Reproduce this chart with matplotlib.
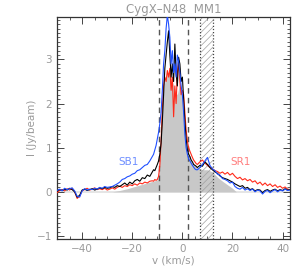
import numpy as np
import matplotlib
matplotlib.use("Agg")
import matplotlib.pyplot as plt
from matplotlib.ticker import MultipleLocator

# velocity channels: 1 km/s in the wings, 0.5 km/s across the core
v = np.concatenate([np.arange(-50, -12.5, 1.0),
                    np.arange(-12, 5.75, 0.5),
                    np.arange(6, 43.5, 1.0)])

black = [0.02, 0.05, 0.03, 0.06, 0.04, 0.08, 0.05, 0.00, -0.12, -0.08,
         0.04, 0.06, 0.03, 0.05, 0.07, 0.04, 0.06, 0.09, 0.07, 0.10,
         0.08, 0.09, 0.12, 0.10, 0.14, 0.12, 0.16, 0.20, 0.15, 0.22,
         0.18, 0.25, 0.28, 0.24, 0.32, 0.30, 0.38, 0.35,
         # core
         0.45, 0.50, 0.48, 0.55, 0.62, 0.70, 0.85, 1.10, 1.60, 2.20,
         2.80, 3.10, 3.40, 3.65, 3.10, 2.60, 2.90, 2.50, 3.35, 2.70,
         2.40, 3.05, 2.90, 2.50, 2.60, 2.10, 1.60, 1.20, 0.95, 0.85,
         0.80, 0.72, 0.68, 0.62, 0.60, 0.58,
         # red side
         0.55, 0.60, 0.58, 0.68, 0.62, 0.55, 0.50, 0.45, 0.42, 0.36,
         0.32, 0.30, 0.28, 0.25, 0.22, 0.18, 0.15, 0.12, 0.14, 0.08,
         0.10, 0.05, 0.07, 0.02, 0.05, 0.04, -0.02, 0.03, 0.05, 0.01,
         0.04, 0.06, 0.02, 0.05, 0.03, 0.07, 0.04, 0.05]

blue = [0.03, 0.06, 0.02, 0.08, 0.05, 0.07, 0.09, 0.02, -0.10, -0.12,
        0.02, 0.07, 0.04, 0.06, 0.05, 0.08, 0.06, 0.10, 0.08, 0.12,
        0.10, 0.11, 0.12, 0.15, 0.18, 0.22, 0.28, 0.30, 0.34, 0.36,
        0.40, 0.42, 0.48, 0.50, 0.55, 0.60, 0.62, 0.70,
        0.80, 0.85, 0.95, 1.05, 1.20, 1.35, 1.55, 1.80, 2.30, 2.90,
        3.20, 3.70, 4.00, 3.80, 3.50, 2.90, 3.20, 2.70, 2.90, 2.60,
        3.10, 2.95, 2.70, 2.40, 2.20, 1.80, 1.30, 1.00, 0.85, 0.75,
        0.70, 0.65, 0.60, 0.56, 0.52, 0.50,
        0.50, 0.55, 0.62, 0.70, 0.78, 0.60, 0.52, 0.48, 0.40, 0.38,
        0.30, 0.28, 0.25, 0.20, 0.22, 0.12, 0.08, 0.06, 0.10, 0.04,
        0.07, 0.03, 0.06, 0.00, 0.04, 0.02, -0.05, 0.01, 0.03, -0.02,
        0.02, 0.05, 0.00, 0.04, 0.02, 0.06, 0.03, 0.04]

red = [-0.02, 0.03, 0.05, 0.02, 0.07, 0.04, 0.08, 0.00, -0.15, -0.10,
       0.03, 0.05, 0.08, 0.04, 0.06, 0.09, 0.05, 0.07, 0.05, 0.08,
       0.04, 0.06, 0.09, 0.06, 0.10, 0.13, 0.10, 0.14, 0.12, 0.16,
       0.14, 0.18, 0.15, 0.20, 0.18, 0.22, 0.20, 0.24,
       0.25, 0.24, 0.28, 0.26, 0.28, 0.35, 0.60, 1.15, 1.90, 2.40,
       2.60, 2.50, 2.75, 2.60, 2.80, 2.30, 2.60, 1.70, 2.40, 2.00,
       2.70, 2.95, 2.50, 2.20, 2.30, 2.20, 1.80, 1.40, 1.15, 1.00,
       0.92, 0.85, 0.78, 0.72, 0.68, 0.64,
       0.62, 0.68, 0.72, 0.65, 0.60, 0.55, 0.52, 0.48, 0.46, 0.42,
       0.45, 0.40, 0.44, 0.38, 0.42, 0.35, 0.30, 0.33, 0.27, 0.30,
       0.25, 0.28, 0.22, 0.25, 0.18, 0.22, 0.15, 0.20, 0.14, 0.18,
       0.12, 0.16, 0.10, 0.13, 0.08, 0.11, 0.06, 0.05]

# grey filled profile
v_gray = [-28, -25, -22, -19, -16, -13, -11, -10, -9.5, -9, -8.5, -8,
          -7.5, -7, -6, -5, -4, -3, -2, -1, 0, 0.5, 1, 1.5, 2, 3, 4,
          6, 8, 10, 12, 14, 16, 18, 20, 21.5]
gray = [0.0, 0.03, 0.07, 0.12, 0.17, 0.22, 0.25, 0.27, 0.35, 0.80, 1.30,
        1.90, 2.30, 2.50, 2.70, 2.70, 2.50, 2.30, 2.20, 2.50, 2.20, 1.90,
        1.50, 1.20, 1.00, 0.80, 0.65, 0.55, 0.50, 0.50, 0.45, 0.33, 0.24,
        0.16, 0.08, 0.0]

vdash = [-9.5, 2.3]
vhatch = (7.0, 12.2)

txt = '#9a9a9a'
plt.rcParams['font.family'] = ['DejaVu Sans']
plt.rcParams['hatch.linewidth'] = 0.5

fig = plt.figure(figsize=(3.07, 2.76), dpi=100)
ax = fig.add_axes([0.186, 0.134, 0.759, 0.804])

ax.axhline(0, color='#e0e0e0', lw=1.2, zorder=0)
ax.fill_between(v_gray, 0, gray, color='#c8c8c8', lw=0, zorder=1)
ax.axvspan(vhatch[0], vhatch[1], facecolor='none', edgecolor='#a0a0a0',
           hatch='/////', lw=0, zorder=2)
for xv in vhatch:
    ax.axvline(xv, color='#444444', lw=0.9, ls=(0, (1, 1.5)), zorder=2)
for xv in vdash:
    ax.axvline(xv, color='#555555', lw=1.0, ls=(0, (4, 3)), zorder=2)

ax.plot(v, red, color='#ff2a1a', lw=0.8, zorder=3)
ax.plot(v, black, color='black', lw=0.8, zorder=4)
ax.plot(v, blue, color='#1f4fff', lw=0.8, zorder=5)

ax.text(-21.5, 0.67, 'SB1', color='#6f8fff', fontsize=7.5, ha='center', va='center')
ax.text(23.2, 0.67, 'SR1', color='#ff7f7f', fontsize=7.5, ha='center', va='center')

ax.set_xlim(-50, 43)
ax.set_ylim(-1.07, 3.96)
ax.xaxis.set_major_locator(MultipleLocator(20))
ax.xaxis.set_minor_locator(MultipleLocator(5))
ax.yaxis.set_major_locator(MultipleLocator(1))
ax.yaxis.set_minor_locator(MultipleLocator(0.1))
ax.tick_params(which='both', direction='in', top=True, right=True,
               colors='#444444', labelcolor=txt, labelsize=7.5)
ax.tick_params(which='major', length=5, width=0.7)
ax.tick_params(which='minor', length=2.5, width=0.6)
for s in ax.spines.values():
    s.set_color('#333333')
    s.set_linewidth(0.9)

ax.set_title('CygX\u2013N48  MM1', color=txt, fontsize=8.5, pad=3)
ax.set_xlabel('v (km/s)', color=txt, fontsize=7.5, labelpad=1)
ax.set_ylabel('I (Jy/beam)', color=txt, fontsize=7.5, labelpad=0)

fig.savefig('out.png', dpi=100)
